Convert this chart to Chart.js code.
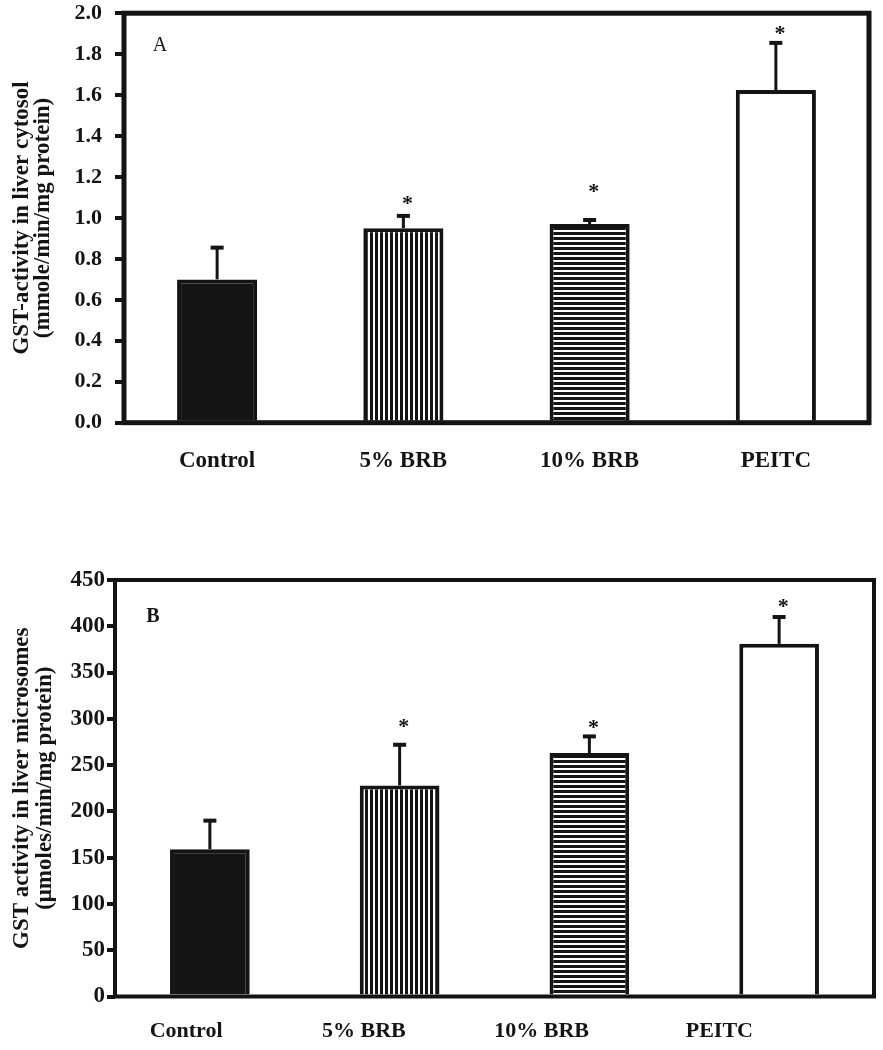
<!DOCTYPE html>
<html>
<head>
<meta charset="utf-8">
<title>GST activity</title>
<script src="https://cdn.jsdelivr.net/npm/chart.js@4.4.1/dist/chart.umd.min.js"></script>
<style>
  html, body { margin: 0; padding: 0; background: #fff; }
  body { width: 883px; height: 1050px; position: relative; overflow: hidden; }
  .panel { position: absolute; left: 0; width: 883px; }
  /* the y tick padding reserves space above the plot, so panel A starts a bit higher */
  #panelA { top: -13px; height: 493px; }
  #panelB { top: 560px; height: 490px; }
</style>
</head>
<body>
<div class="panel" id="panelA"><canvas id="chartA" width="883" height="493"></canvas></div>
<div class="panel" id="panelB"><canvas id="chartB" width="883" height="490"></canvas></div>
<script>
'use strict';

const groups = ['Control', '5% BRB', '10% BRB', 'PEITC'];

// --- Panel A: liver cytosol ---
const cytosolMean = [0.70, 0.95, 0.97, 1.625];
const cytosolErrTop = [0.855, 1.01, 0.99, 1.855];
const cytosolStar = [null, 1.09, 1.15, 1.92];
const cytosolTicks = [0, 0.2, 0.4, 0.6, 0.8, 1.0, 1.2, 1.4, 1.6, 1.8, 2.0];

// --- Panel B: liver microsomes ---
const microMean = [159, 228, 263, 381];
const microErrTop = [190, 272, 281, 410];
const microStar = [null, 296, 295, 426];
const microTicks = [0, 50, 100, 150, 200, 250, 300, 350, 400, 450];
const microLabelSlots = [0, 1, 2, 3];

const INK = '#141414';
const SERIF = "'Liberation Serif', 'Times New Roman', serif";

function stripes(vertical, period, ink) {
    const c = document.createElement('canvas');
    c.width = vertical ? period : 1;
    c.height = vertical ? 1 : period;
    const g = c.getContext('2d');
    g.fillStyle = '#fff';
    g.fillRect(0, 0, c.width, c.height);
    g.fillStyle = INK;
    if (vertical) g.fillRect(0, 0, ink, 1);
    else g.fillRect(0, 0, 1, ink);
    return document.createElement('canvas').getContext('2d').createPattern(c, 'repeat');
}

// error bars, asterisks, frame and panel letter
const panelExtras = {
    id: 'panelExtras',
    afterDatasetsDraw(chart, args, opts) {
        const { ctx, chartArea: a, scales } = chart;
        const y = scales.y;
        const meta = chart.getDatasetMeta(0);
        ctx.save();
        ctx.strokeStyle = INK;
        ctx.fillStyle = INK;
        meta.data.forEach((bar, i) => {
            const top = y.getPixelForValue(opts.errTop[i]);
            ctx.lineWidth = 3;
            ctx.beginPath(); ctx.moveTo(bar.x, bar.y); ctx.lineTo(bar.x, top); ctx.stroke();
            ctx.lineWidth = 4;
            ctx.beginPath(); ctx.moveTo(bar.x - 6.5, top); ctx.lineTo(bar.x + 6.5, top); ctx.stroke();
            if (opts.star[i] != null) {
                ctx.font = 'bold 22px ' + SERIF;
                ctx.textAlign = 'center';
                ctx.textBaseline = 'middle';
                ctx.fillText('*', bar.x + 4, y.getPixelForValue(opts.star[i]) + 5);
            }
        });
        ctx.lineWidth = opts.frame;
        ctx.strokeRect(a.left, a.top, a.right - a.left, a.bottom - a.top);
        ctx.font = opts.letterFont;
        ctx.textAlign = 'center';
        ctx.textBaseline = 'middle';
        ctx.fillText(opts.letter, a.left + opts.letterDx, a.top + opts.letterDy);
        ctx.restore();
    }
};

document.addEventListener('DOMContentLoaded', function() {

    // --- Panel A ---
    new Chart(document.getElementById('chartA'), {
        type: 'bar',
        data: {
            labels: groups,
            datasets: [{
                data: cytosolMean,
                backgroundColor: [INK, stripes(true, 5, 3), stripes(false, 5, 3), '#fff'],
                borderColor: INK,
                borderWidth: 4,
                borderSkipped: 'bottom',
                barPercentage: 0.43,
                categoryPercentage: 1.0
            }]
        },
        plugins: [panelExtras],
        options: {
            responsive: false, animation: false, events: [],
            layout: { padding: { top: 0, right: 14, bottom: 0, left: 0 } },
            plugins: {
                legend: { display: false }, tooltip: { enabled: false },
                panelExtras: { errTop: cytosolErrTop, star: cytosolStar, frame: 5,
                    letter: 'A', letterFont: '20px ' + SERIF, letterDx: 36, letterDy: 33 }
            },
            scales: {
                x: {
                    grid: { display: false, drawTicks: false },
                    border: { display: false },
                    ticks: { color: INK, padding: 25, font: { family: SERIF, size: 23, weight: 'bold' } },
                    afterFit: s => { s.height = 57.3; }
                },
                y: {
                    min: 0, max: 2.0,
                    afterBuildTicks: s => { s.ticks = cytosolTicks.map(v => ({ value: v })); },
                    grid: { drawOnChartArea: false, tickLength: 9, lineWidth: 4, color: INK },
                    border: { display: false },
                    ticks: { color: INK, padding: 13, callback: v => v.toFixed(1),
                        font: { family: SERIF, size: 22, weight: 'bold' } },
                    title: {
                        display: true, color: INK,
                        text: ['GST-activity in liver cytosol', '(mmole/min/mg protein)'],
                        font: { family: SERIF, size: 23, weight: 'bold', lineHeight: 0.92 },
                        padding: { top: 11, bottom: 0 }
                    },
                    afterFit: s => { s.width = 124; }
                }
            }
        }
    });

    // --- Panel B ---
    new Chart(document.getElementById('chartB'), {
        type: 'bar',
        data: {
            labels: groups,
            datasets: [{
                data: microMean,
                backgroundColor: [INK, stripes(true, 5, 3), stripes(false, 5, 3), '#fff'],
                borderColor: INK,
                borderWidth: 4,
                borderSkipped: 'bottom',
                barPercentage: 0.42,
                categoryPercentage: 1.0
            }]
        },
        plugins: [panelExtras],
        options: {
            responsive: false, animation: false, events: [],
            layout: { padding: { top: 20, right: 9, bottom: 0, left: 0 } },
            plugins: {
                legend: { display: false }, tooltip: { enabled: false },
                panelExtras: { errTop: microErrTop, star: microStar, frame: 4,
                    letter: 'B', letterFont: 'bold 20px ' + SERIF, letterDx: 38, letterDy: 37 }
            },
            scales: {
                x: { display: false },
                // group names sit on their own evenly spaced slots, left of the bars
                xl: {
                    type: 'linear', position: 'bottom', min: -0.4, max: 3.87, offset: false,
                    afterBuildTicks: s => { s.ticks = microLabelSlots.map(v => ({ value: v })); },
                    grid: { display: false, drawTicks: false, offset: false },
                    border: { display: false },
                    ticks: { color: INK, padding: 22, autoSkip: false, callback: v => groups[v],
                        font: { family: SERIF, size: 22, weight: 'bold' } },
                    afterFit: s => { s.height = 53.5; }
                },
                y: {
                    min: 0, max: 450,
                    afterBuildTicks: s => { s.ticks = microTicks.map(v => ({ value: v })); },
                    grid: { drawOnChartArea: false, tickLength: 8, lineWidth: 4, color: INK },
                    border: { display: false },
                    ticks: { color: INK, padding: 2, font: { family: SERIF, size: 23, weight: 'bold' } },
                    title: {
                        display: true, color: INK,
                        text: ['GST activity in liver microsomes', '(\u03bcmoles/min/mg protein)'],
                        font: { family: SERIF, size: 23, weight: 'bold', lineHeight: 1.0 },
                        padding: { top: 11, bottom: 0 }
                    },
                    afterFit: s => { s.width = 115; }
                }
            }
        }
    });
});
</script>
</body>
</html>
